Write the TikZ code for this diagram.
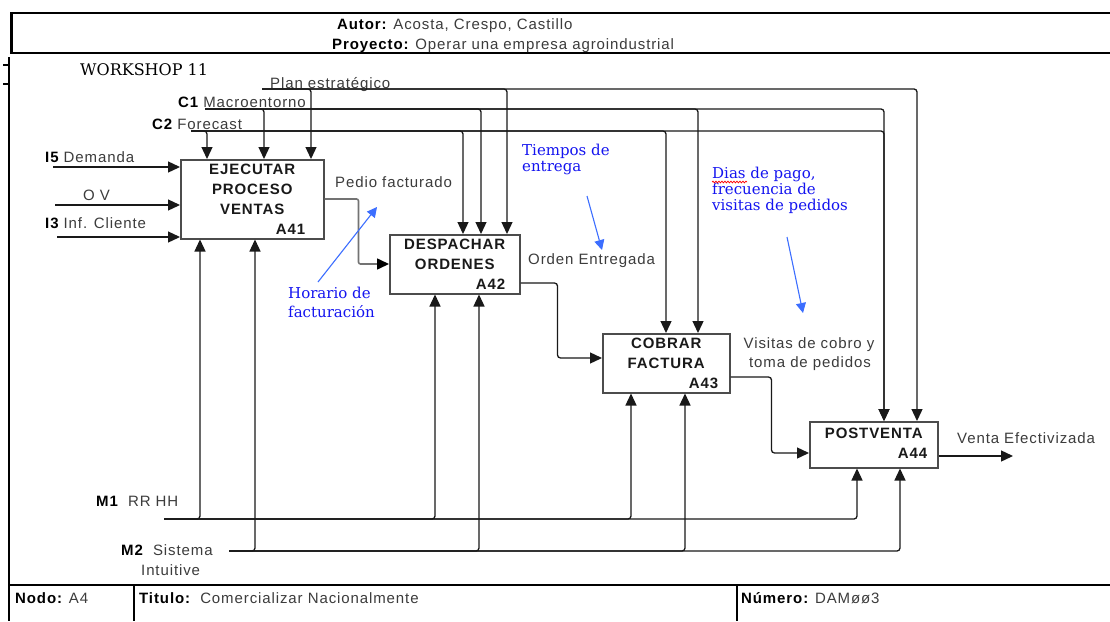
\documentclass[tikz,border=0pt]{standalone}
\usepackage{fontspec}
\setmainfont{Liberation Sans}[LetterSpace=6]
\newfontfamily\serifb{DejaVu Serif}
\usetikzlibrary{arrows.meta,calc,decorations.pathmorphing}
\definecolor{notetxt}{RGB}{20,20,240}
\definecolor{notearr}{RGB}{60,110,255}
\definecolor{lblgray}{RGB}{60,60,60}
\tikzset{
  ln/.style={line width=1.3pt, black!90},
  arr/.style={ln, -{Triangle[length=12pt,width=11pt]}},
  rc/.style={rounded corners=3pt},
  box/.style={draw=black!70, line width=1.5pt, anchor=north west, inner sep=0pt},
  btxt/.style={inner sep=0pt, text height=11pt, text depth=0pt, font=\fontsize{15}{18}\selectfont\bfseries, text=black!90},
  lbl/.style={anchor=west, inner sep=0pt, text height=11pt, text depth=0pt, text=lblgray, font=\fontsize{15}{18}\selectfont},
  note/.style={anchor=west, inner sep=0pt, text height=11pt, text depth=0pt, text=notetxt, font=\serifb\fontsize{15}{17}\selectfont},
  barr/.style={draw=notearr, line width=1.1pt, -{Triangle[length=10pt,width=10pt]}},
  frame/.style={line width=2.6pt, black},
}
\newcommand{\bk}[1]{\textcolor{black}{\bfseries #1}}
\begin{document}
\begin{tikzpicture}[x=1pt,y=-1pt]
\useasboundingbox[fill=white] (0,0) rectangle (1110,621);
% ---- frame ----
\draw[frame] (10,13) -- (1110,13);
\draw[frame] (10,53) -- (1110,53);
\draw[line width=3pt] (11.5,12) -- (11.5,54);
\draw[frame] (9,57) -- (9,621);
\draw[frame] (9,585) -- (1110,585);
\draw[frame] (134,585) -- (134,621);
\draw[frame] (737,585) -- (737,621);
\draw[line width=2.5pt] (3,65) -- (9,65);
\draw[line width=2.5pt] (3,84) -- (9,84);
% ---- header / footer text ----
\node[lbl] (autor) at (337,24) {\bk{Autor:} Acosta, Crespo, Castillo};
\node[lbl] (proy) at (332,44) {\bk{Proyecto:} Operar una empresa agroindustrial};
\node[lbl] (nodo) at (15,598) {\bk{Nodo:} A4};
\node[lbl] (titulo) at (139,598) {\bk{Titulo:}\ \ Comercializar Nacionalmente};
\node[lbl] (numero) at (741,598) {\bk{Número:} DAMøø3};
\node[anchor=west, inner sep=0pt, text height=11pt, text depth=0pt, font=\serifb\fontsize{16}{18}\selectfont] (ws) at (80,70) {WORKSHOP 11};
% ---- boxes ----
\node[box, minimum width=143pt, minimum height=79pt] (A41) at (180,159) {};
\node[box, minimum width=130pt, minimum height=59pt] (A42) at (389,234) {};
\node[box, minimum width=127pt, minimum height=59pt] (A43) at (602,333) {};
\node[box, minimum width=128pt, minimum height=46pt] (A44) at (809,421) {};
% box texts
\node[btxt] (t41a) at ([yshift=-10pt]A41.north) {EJECUTAR};
\node[btxt] (t41b) at ([yshift=-30pt]A41.north) {PROCESO};
\node[btxt] (t41c) at ([yshift=-50pt]A41.north) {VENTAS};
\node[btxt, anchor=east] (t41d) at ([xshift=-19pt,yshift=-70pt]A41.north east) {A41};
\node[btxt] (t42a) at ([yshift=-10pt]A42.north) {DESPACHAR};
\node[btxt] (t42b) at ([yshift=-30pt]A42.north) {ORDENES};
\node[btxt, anchor=east] (t42c) at ([xshift=-15pt,yshift=-50pt]A42.north east) {A42};
\node[btxt] (t43a) at ([yshift=-10pt]A43.north) {COBRAR};
\node[btxt] (t43b) at ([yshift=-30pt]A43.north) {FACTURA};
\node[btxt, anchor=east] (t43c) at ([xshift=-12pt,yshift=-50pt]A43.north east) {A43};
\node[btxt] (t44a) at ([yshift=-12pt]A44.north) {POSTVENTA};
\node[btxt, anchor=east] (t44b) at ([xshift=-11pt,yshift=-32pt]A44.north east) {A44};
% ---- end points ----
\coordinate (plan) at (262,89);
\coordinate (c1) at (205,109);
\coordinate (c2) at (191,131);
\coordinate (i5) at (53,167);
\coordinate (ov) at (55,205);
\coordinate (i3) at (57,237);
\coordinate (m1) at (164,519);
\coordinate (m2) at (229,551);
\coordinate (out) at (1013,456);
% ---- labels ----
\node[lbl] (lplan) at (270,83) {Plan estratégico};
\node[lbl] (lc1) at (178,102) {\bk{C1} Macroentorno};
\node[lbl] (lc2) at (152,124) {\bk{C2} Forecast};
\node[lbl] (li5) at (45,157) {\bk{I5} Demanda};
\node[lbl] (lov) at (83,195) {O V};
\node[lbl] (li3) at (45,223) {\bk{I3} Inf. Cliente};
\node[lbl] (lm1) at (96,501) {\bk{M1}\ \ RR HH};
\node[lbl] (lm2) at (121,550) {\bk{M2}\ \ Sistema};
\node[lbl] (lm2b) at (141,570) {Intuitive};
\node[lbl] (lpf) at (335,182) {Pedio facturado};
\node[lbl] (loe) at (528,259) {Orden Entregada};
\node[lbl, anchor=center] (lv1) at (809,343) {Visitas de cobro y};
\node[lbl, anchor=center] (lv2) at (810,362) {toma de pedidos};
\node[lbl] (lve) at (957,438) {Venta Efectivizada};
% ---- controls ----
\draw[arr, rc] (plan) -| ([xshift=131pt]A41.north west);
\draw[arr, rc] (plan) -| ([xshift=118pt]A42.north west);
\draw[arr, rc] (plan) -| ([xshift=108pt]A44.north west);
\draw[arr, rc] (c1) -| ([xshift=84pt]A41.north west);
\draw[arr, rc] (c1) -| ([xshift=92pt]A42.north west);
\draw[arr, rc] (c1) -| ([xshift=96pt]A43.north west);
\draw[arr, rc] (c1) -| ([xshift=75pt]A44.north west);
\draw[arr, rc] (c2) -| ([xshift=27pt]A41.north west);
\draw[arr, rc] (c2) -| ([xshift=74pt]A42.north west);
\draw[arr, rc] (c2) -| ([xshift=64pt]A43.north west);
\draw[arr, rc] (c2) -| ([xshift=75pt]A44.north west);
% ---- inputs ----
\draw[arr] (i5) -- (i5 -| A41.west);
\draw[arr] (ov) -- (ov -| A41.west);
\draw[arr] (i3) -- (i3 -| A41.west);
% ---- flow between activities ----
\draw[draw=black!55, line width=1.6pt, -{Triangle[length=12pt,width=11pt,color=black]}, rounded corners=2pt] ([yshift=-40pt]A41.north east) -- ++(34,0) |- ([yshift=-30pt]A42.north west);
\draw[arr, rounded corners=3pt] ([yshift=-49pt]A42.north east) -- ++(37,0) |- ([yshift=-25pt]A43.north west);
\draw[arr, rounded corners=3pt] ([yshift=-44pt]A43.north east) -- ++(41,0) |- ([yshift=-32pt]A44.north west);
\draw[arr] ([yshift=-35pt]A44.north east) -- (out);
% ---- mechanisms ----
\draw[arr, rc] (m1) -| ([xshift=20pt]A41.south west);
\draw[arr, rc] (m1) -| ([xshift=46pt]A42.south west);
\draw[arr, rc] (m1) -| ([xshift=29pt]A43.south west);
\draw[arr, rc] (m1) -| ([xshift=48pt]A44.south west);
\draw[arr, rc] (m2) -| ([xshift=75pt]A41.south west);
\draw[arr, rc] (m2) -| ([xshift=90pt]A42.south west);
\draw[arr, rc] (m2) -| ([xshift=83pt]A43.south west);
\draw[arr, rc] (m2) -| ([xshift=91pt]A44.south west);
% ---- blue notes ----
\node[note] (nh1) at (288,293) {Horario de};
\node[note] (nh2) at (288,312) {facturación};
\node[note] (nt1) at (522,150) {Tiempos de};
\node[note] (nt2) at (522,166) {entrega};
\node[note] (nd1) at (712,173) {Dias de pago,};
\node[note] (nd2) at (712,189) {frecuencia de};
\node[note] (nd3) at (712,205) {visitas de pedidos};
\draw[red, line width=0.7pt, decorate, decoration={snake, amplitude=0.9pt, segment length=3pt}] (712,182) -- (747,182);
\coordinate (hA) at (318,282);
\coordinate (hB) at (377,207);
\coordinate (tA) at (587,196);
\coordinate (tB) at (602,250);
\coordinate (dA) at (787,237);
\coordinate (dB) at (803,313);
\draw[barr] (hA) -- (hB);
\draw[barr] (tA) -- (tB);
\draw[barr] (dA) -- (dB);
\end{tikzpicture}
\end{document}
